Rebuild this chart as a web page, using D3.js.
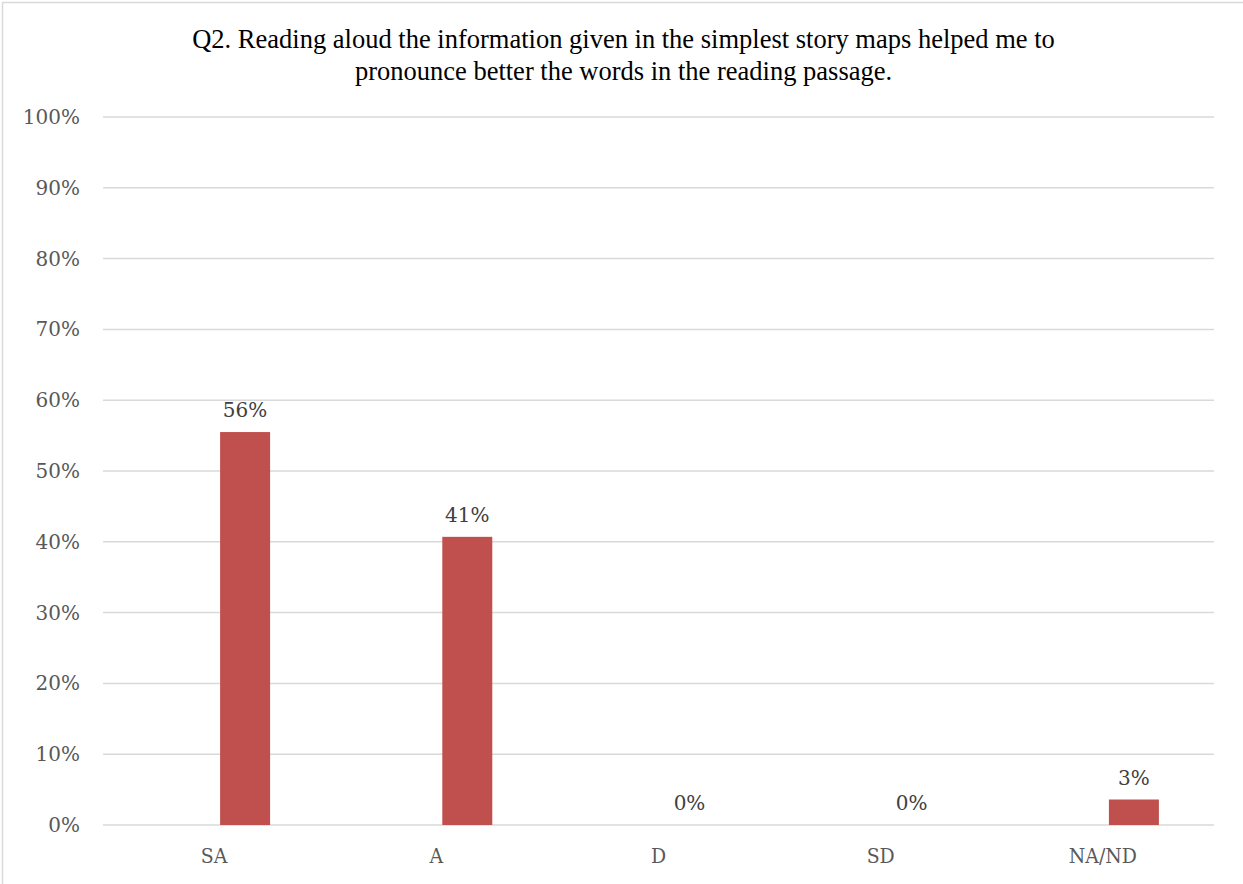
<!DOCTYPE html>
<html>
<head>
<meta charset="utf-8">
<script src="https://cdn.jsdelivr.net/npm/d3@7"></script>
<style>
  body { margin: 0; background: #fff; }
  svg { display: block; }
</style>
</head>
<body>
<div id="chart"></div>
<script>
// Data
const categories = ['SA', 'A', 'D', 'SD', 'NA/ND'];
const values = [55.5, 40.7, 0, 0, 3.6];
const valueLabels = ['56%', '41%', '0%', '0%', '3%'];
const yTicks = [0, 10, 20, 30, 40, 50, 60, 70, 80, 90, 100];
const titleLines = [
  'Q2. Reading aloud the information given in the simplest story maps helped me to',
  'pronounce better the words in the reading passage.'
];

const width = 1243, height = 884;
const plot = { left: 103, right: 1214, top: 117, bottom: 825 };
const labelFont = '"DejaVu Serif", serif';

const svg = d3.select('#chart').append('svg')
  .attr('width', width)
  .attr('height', height);

// Chart border
svg.append('rect')
  .attr('x', 2.5).attr('y', 2.5)
  .attr('width', width + 10).attr('height', height + 10)
  .attr('fill', 'none')
  .attr('stroke', '#d9d9d9')
  .attr('stroke-width', 1.5);

// Scales
const x = d3.scaleBand()
  .domain(categories)
  .range([plot.left, plot.right])
  .padding(0);

const y = d3.scaleLinear()
  .domain([0, 100])
  .range([plot.bottom, plot.top]);

const bw = x.bandwidth();
const barWidth = bw * 0.225;
const barOffset = bw * 0.027;

// Gridlines
svg.append('g')
  .selectAll('line')
  .data(yTicks)
  .join('line')
  .attr('x1', plot.left)
  .attr('x2', plot.right)
  .attr('y1', d => y(d))
  .attr('y2', d => y(d))
  .attr('stroke', '#d9d9d9')
  .attr('stroke-width', 1.5);

// Y axis labels
const yAxis = svg.append('g')
  .attr('transform', `translate(${plot.left}, 0)`)
  .call(d3.axisLeft(y).tickValues(yTicks).tickFormat(d => d + '%').tickSize(0).tickPadding(23));
yAxis.select('.domain').remove();
yAxis.selectAll('text')
  .attr('fill', '#595959')
  .style('font-family', labelFont)
  .style('font-size', '20px');

// X axis labels
const xAxis = svg.append('g')
  .attr('transform', `translate(0, ${plot.bottom})`)
  .call(d3.axisBottom(x).tickSize(0).tickPadding(23));
xAxis.select('.domain').remove();
xAxis.selectAll('text')
  .attr('fill', '#595959')
  .style('font-family', labelFont)
  .style('font-stretch', 'condensed')
  .style('font-size', '21px');

// Bars
svg.append('g')
  .selectAll('rect')
  .data(categories)
  .join('rect')
  .attr('x', (d, i) => x(d) + bw / 2 + barOffset)
  .attr('y', (d, i) => y(values[i]))
  .attr('width', barWidth)
  .attr('height', (d, i) => y(0) - y(values[i]))
  .attr('fill', '#c0504d');

// Data labels
svg.append('g')
  .selectAll('text')
  .data(categories)
  .join('text')
  .attr('x', (d, i) => x(d) + bw / 2 + barOffset + barWidth / 2)
  .attr('y', (d, i) => y(values[i]) - 15)
  .attr('text-anchor', 'middle')
  .attr('fill', '#404040')
  .style('font-family', labelFont)
  .style('font-size', '20px')
  .text((d, i) => valueLabels[i]);

// Title
svg.append('g')
  .selectAll('text')
  .data(titleLines)
  .join('text')
  .attr('x', (plot.left + plot.right) / 2 - 35)
  .attr('y', (d, i) => 48 + i * 32)
  .attr('text-anchor', 'middle')
  .attr('fill', '#000')
  .style('font-family', '"Liberation Serif", "Times New Roman", serif')
  .style('font-size', '26.5px')
  .text(d => d);
</script>
</body>
</html>
